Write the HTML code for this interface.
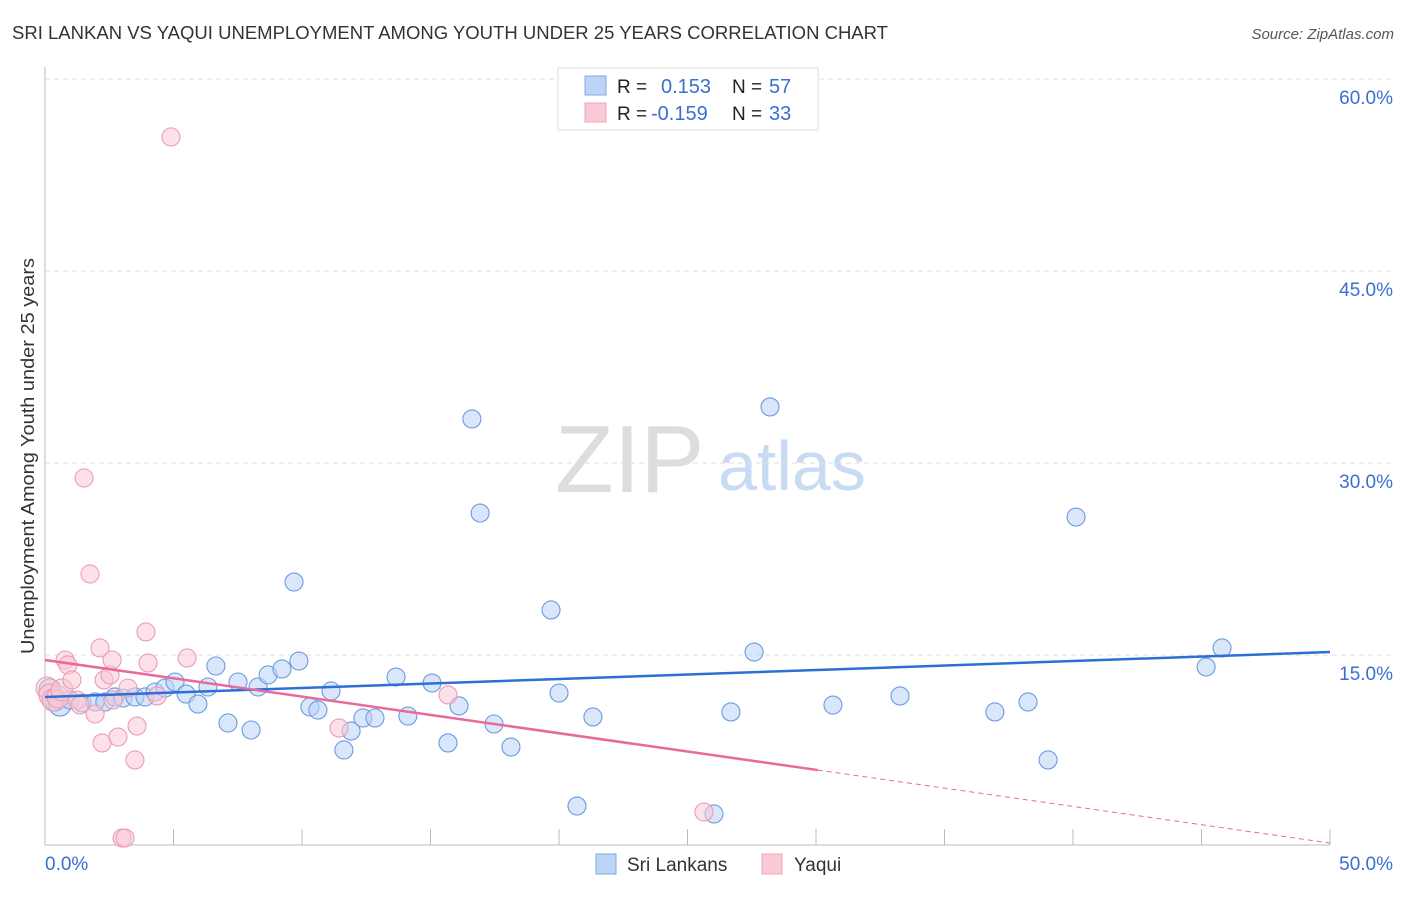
<!DOCTYPE html>
<html><head><meta charset="utf-8"><style>
body{margin:0;background:#fff;font-family:"Liberation Sans",sans-serif;}
svg text{font-family:"Liberation Sans",sans-serif;}
</style></head><body>
<svg id="c" width="1406" height="892">
<text x="12" y="39" font-size="18" fill="#333" textLength="876" lengthAdjust="spacingAndGlyphs">SRI LANKAN VS YAQUI UNEMPLOYMENT AMONG YOUTH UNDER 25 YEARS CORRELATION CHART</text>
<text x="1394" y="39" font-size="15" fill="#555" font-style="italic" text-anchor="end">Source: ZipAtlas.com</text>
<text x="34" y="456" font-size="18" fill="#333" text-anchor="middle" textLength="396" lengthAdjust="spacingAndGlyphs" transform="rotate(-90 34 456)">Unemployment Among Youth under 25 years</text>
<text x="555" y="492" font-size="96" fill="#ddd" font-family="Liberation Serif">ZIP</text>
<text x="718" y="490" font-size="70" fill="#c9daf3">atlas</text>
<g id="grid"></g><g id="axes"></g><g id="pts"></g><g id="trend"></g>
<g>
<rect x="558" y="68" width="260" height="62" fill="#fff" stroke="#ddd"/>
<rect x="585" y="76" width="21" height="19" fill="#bcd4f5" stroke="#7fa8e6"/>
<rect x="585" y="103" width="21" height="19" fill="#f9c9d6" stroke="#eea5ba"/>
<text x="617" y="93" font-size="19" fill="#222">R =</text><text x="661" y="93" font-size="20" fill="#3a6fd0">0.153</text>
<text x="732" y="93" font-size="19" fill="#222">N =</text><text x="769" y="93" font-size="20" fill="#3a6fd0">57</text>
<text x="617" y="120" font-size="19" fill="#222">R =</text><text x="651" y="120" font-size="20" fill="#3a6fd0">-0.159</text>
<text x="732" y="120" font-size="19" fill="#222">N =</text><text x="769" y="120" font-size="20" fill="#3a6fd0">33</text>
</g>
<g>
<rect x="596" y="854" width="20" height="20" fill="#bcd4f5" stroke="#7fa8e6"/>
<text x="627" y="871" font-size="19" fill="#333">Sri Lankans</text>
<rect x="762" y="854" width="20" height="20" fill="#f9c9d6" stroke="#eea5ba"/>
<text x="794" y="871" font-size="19" fill="#333">Yaqui</text>
</g>
</svg>
<script>
const yTicks=[15,30,45,60];
const yTickLabels=["15.0%","30.0%","45.0%","60.0%"];
const xLabels=["0.0%","50.0%"];
const blueX=[0.19,0.39,0.58,0.97,1.44,1.95,2.33,2.72,3.04,3.5,3.89,4.28,4.67,5.06,5.49,5.95,6.34,6.65,7.12,7.51,8.02,8.29,8.68,9.22,9.69,9.88,10.31,10.62,11.13,11.63,11.91,12.37,12.84,13.66,14.12,15.06,15.68,16.11,16.61,16.93,17.47,18.13,19.69,20,20.7,21.32,26.03,26.69,27.59,28.21,30.66,33.27,36.96,38.25,39.03,40.12,45.18,45.8];
const blueY=[12.27,11.48,11.09,11.48,11.25,11.33,11.33,11.72,11.64,11.72,11.72,12.11,12.42,12.89,11.95,11.17,12.5,14.14,9.69,12.89,9.14,12.5,13.44,13.91,20.7,14.53,10.94,10.7,12.19,7.58,9.06,10.08,10.08,13.28,10.23,12.81,8.13,11.02,33.44,26.09,9.61,7.81,18.52,12.03,3.2,10.16,2.58,10.55,15.23,34.38,11.09,11.8,10.55,11.33,6.8,25.78,14.06,15.55];
const pinkX=[0.08,0.19,0.31,0.51,0.66,0.78,0.89,1.05,1.25,1.36,1.52,1.75,1.95,2.14,2.22,2.3,2.53,2.61,2.65,2.84,3,3.11,3.23,3.5,3.58,3.93,4.01,4.36,4.9,5.53,11.44,15.68,25.64];
const pinkY=[12.42,11.88,11.48,11.72,12.27,14.61,14.22,13.05,11.48,11.09,28.83,21.33,10.39,15.55,8.13,13.05,13.44,14.61,11.48,8.59,0.7,0.7,12.42,6.8,9.45,16.8,14.38,11.8,55.47,14.77,9.3,11.88,2.73];
const blueTrend=[11.72,15.23];
const pinkTrend=[14.61,0.31];
const pinkSolidEnd=30.07;
const NS="http://www.w3.org/2000/svg";
const X=v=>45+v/50*1285, Y=v=>847-v/60*768;
function mk(t,a,p){const e=document.createElementNS(NS,t);for(const k in a)e.setAttribute(k,a[k]);document.getElementById(p).appendChild(e);return e;}
yTicks.forEach((t,i)=>{
 const g=mk('line',{x1:45,x2:1394,y1:Y(t),y2:Y(t),stroke:'#ddd','stroke-dasharray':'5,4'},'grid');
 
 
 const l=mk('text',{x:1393,y:Y(t)+25,'font-size':19,fill:'#3a6fd0','text-anchor':'end'},'grid');
 l.textContent=yTickLabels[i];
 
 
});
mk('line',{x1:45,x2:45,y1:67,y2:845,stroke:'#bbb'},'axes');
mk('line',{x1:45,x2:1330,y1:845,y2:845,stroke:'#bbb'},'axes');
for(let v=5;v<=50;v+=5){const t=mk('line',{x1:X(v),x2:X(v),y1:829,y2:845,stroke:'#bbb'},'axes');
 
 }
[[0,45,'start'],[50,1393,'end']].forEach((d,i)=>{const l=mk('text',{x:i?1393:45,y:870,'font-size':19,fill:'#3a6fd0','text-anchor':d[2]},'axes');l.textContent=xLabels[i];
 
 });
function pts(xs,ys,f,s,name){xs.forEach((x,i)=>{const c=mk('circle',{cx:X(x),cy:Y(ys[i]),r:(x<0.7?11:9),fill:f,'fill-opacity':0.55,stroke:s,'stroke-width':1.1},'pts');
 
 });}
pts(blueX,blueY,'#bcd4f5','#6a9be0','sri-lankan-point');
pts(pinkX,pinkY,'#f9c9d6','#ec9db4','yaqui-point');
const bt=mk('line',{x1:X(0),y1:Y(blueTrend[0]),x2:X(50),y2:Y(blueTrend[1]),stroke:'#2d6fd6','stroke-width':2.5},'trend');


const pe=pinkTrend[0]+(pinkTrend[1]-pinkTrend[0])*pinkSolidEnd/50;
const pt=mk('line',{x1:X(0),y1:Y(pinkTrend[0]),x2:X(pinkSolidEnd),y2:Y(pe),stroke:'#e8699a','stroke-width':2.5},'trend');


const pd=mk('line',{x1:X(pinkSolidEnd),y1:Y(pe),x2:X(50),y2:Y(pinkTrend[1]),stroke:'#e8699a','stroke-width':1,'stroke-dasharray':'5,4'},'trend');


</script>
</body></html>
